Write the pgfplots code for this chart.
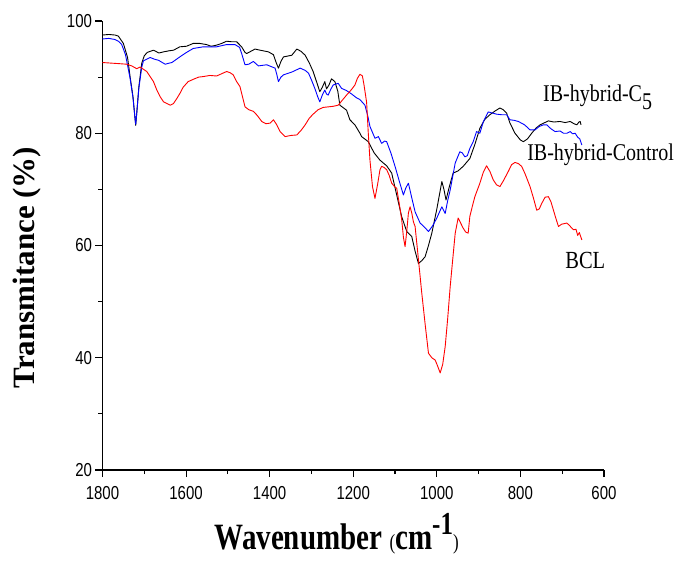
\documentclass[border=0pt]{standalone}
\usepackage{pgfplots}
\pgfplotsset{compat=1.18}
\usepackage{fontspec}
\setmainfont{Liberation Serif}
\newfontfamily\arialfont{Liberation Sans}

\begin{document}
\begin{tikzpicture}
\begin{axis}[
  scale only axis,
  width=501.5pt, height=449pt,
  x dir=reverse,
  xmin=600, xmax=1800, ymin=20, ymax=100,
  xtick={600,800,...,1800}, ytick={20,40,...,100},
  minor tick num=1,
  axis x line*=bottom, axis y line*=left,
  axis line style={line width=1.3pt},
  tick align=outside,
  major tick length=7pt, minor tick length=4pt,
  tick style={line width=1.1pt, black},
  /pgf/number format/assume math mode=true,
  /pgf/number format/1000 sep={},
  ticklabel style={font=\arialfont\fontsize{15}{15}\selectfont, yscale=1.25},
  xticklabel style={yshift=-4pt},
  clip=false,
  xlabel={\textbf{Wavenumber} {\fontsize{17}{17}\selectfont(}\textbf{cm\raisebox{0.42em}{\fontsize{25}{25}\selectfont -1}}{\fontsize{17}{17}\selectfont)}},
  xlabel style={at={(axis description cs:0.467,-0.178)}, anchor=base,
                font=\fontsize{29}{29}\selectfont, yscale=1.28},
  ylabel={\textbf{Transmitance (\%)}},
  ylabel style={at={(axis description cs:-0.1346,0.451)}, anchor=base,
                font=\fontsize{31}{31}\selectfont},
  every axis plot/.append style={line width=0.9pt, line join=round},
]

% IB-hybrid-C5
\addplot[black] coordinates {
(1800,97.5) (1785,97.6) (1770,97.5) (1762,97.3) (1750,96.0) (1740,93.5)
(1734,90.1) (1727,86.5) (1722,82.5) (1720.5,81.4) (1717,84.5) (1713,88.3)
(1706,92.5) (1700,93.8) (1693,94.4) (1678,94.8) (1665,94.3) (1654,94.5)
(1640,94.7) (1630,94.8) (1615,95.4) (1599,95.5) (1583,96.0) (1567,96.0)
(1551,95.8) (1540,95.5) (1527,95.7) (1515,96.0) (1503,96.4) (1491,96.3)
(1479,96.3) (1467,95.4) (1459,94.4) (1455,94.2) (1435,95.0) (1423,94.8)
(1403,94.5) (1391,94.0) (1384,92.5) (1379,91.6) (1373,92.8) (1367,93.6)
(1347,93.9) (1335,95.0) (1325,94.6) (1315,93.9) (1305,92.5) (1296,91.0)
(1287,89.0) (1280,87.4) (1274,88.2) (1268,89.2) (1264,87.9) (1258,88.6)
(1252,89.7) (1244,89.2) (1237,87.5) (1232,85.0) (1216,84.1) (1208,82.4)
(1196,81.5) (1184,80.0) (1180,79.4) (1164,78.5) (1150,76.5) (1136,75.2)
(1120,74.2) (1108,72.9) (1096,69.0) (1084,65.1) (1072,62.5) (1060,61.6)
(1052,59.0) (1044,56.8) (1036,57.3) (1028,58.0) (1020,60.0) (1012,62.2)
(1000,66.5) (988,71.4) (983,70.0) (978,68.1) (970,70.5) (961,72.9)
(949,73.3) (937,74.1) (921,75.5) (909,78.0) (897,80.9) (885,82.5)
(873,83.3) (860,84.0) (849,84.5) (841,84.2) (833,83.6) (825,81.8)
(813,80.0) (800,78.8) (793,78.5) (783,79.0) (773,80.0) (763,80.9)
(753,81.5) (733,82.2) (720,82.0) (705,82.1) (693,81.9) (681,82.1)
(672,81.7) (665,81.5) (660,82.0) (657,82.1) (655,81.5)
};

% IB-hybrid-Control
\addplot[blue] coordinates {
(1800,96.8) (1785,96.9) (1770,96.7) (1762,96.4) (1754,95.8) (1745,94.0)
(1734,89.8) (1727,86.3) (1722,82.5) (1720.5,81.6) (1717,84.5) (1713,88.0)
(1706,91.8) (1702,92.9) (1686,93.5) (1676,93.2) (1666,93.0) (1650,92.3)
(1640,92.5) (1634,92.6) (1615,93.6) (1599,94.4) (1583,95.1) (1559,95.4)
(1545,95.4) (1527,95.4) (1515,95.6) (1503,95.8) (1483,95.8) (1472,95.3)
(1467,94.2) (1459,92.2) (1450,92.3) (1439,92.8) (1427,92.0) (1407,92.2)
(1387,91.6) (1383,90.5) (1379,89.2) (1373,90.0) (1367,90.4) (1347,90.9)
(1327,91.6) (1315,91.2) (1307,90.7) (1300,89.5) (1292,88.0) (1285,86.5)
(1280,85.6) (1274,86.8) (1268,87.7) (1264,87.0) (1260,86.8) (1254,87.8)
(1248,88.6) (1236,88.9) (1228,88.0) (1216,87.6) (1204,87.0) (1192,86.3)
(1184,86.0) (1172,85.0) (1165,83.0) (1160,81.2) (1148,79.1) (1140,79.4)
(1132,78.2) (1125,78.6) (1120,78.5) (1110,76.5) (1100,74.1) (1090,71.5)
(1080,69.0) (1074,70.3) (1068,71.1) (1060,68.5) (1052,66.0) (1040,64.0)
(1030,63.3) (1020,62.5) (1010,63.5) (1000,64.9) (988,66.9) (980,65.7)
(974,68.0) (968,69.9) (956,74.7) (945,76.7) (939,76.5) (933,75.8)
(927,76.0) (921,77.3) (913,78.5) (905,80.3) (897,80.0) (889,82.0)
(877,83.8) (867,83.6) (857,83.4) (845,83.3) (833,83.3) (825,82.4)
(815,82.3) (805,82.1) (790,81.5) (777,80.6) (765,80.6) (755,81.2)
(745,81.5) (737,81.5) (727,80.8) (717,80.3) (705,80.4) (697,80.0)
(689,80.0) (681,80.3) (675,79.9) (669,80.0) (663,79.3) (658,79.0) (653,77.9)
};

% BCL
\addplot[red] coordinates {
(1800,92.6) (1780,92.5) (1760,92.4) (1742,92.3) (1730,92.0) (1718,91.5)
(1710,91.8) (1702,91.4) (1694,91.0) (1686,90.1) (1678,89.2) (1670,87.7)
(1662,86.5) (1654,85.6) (1646,85.3) (1638,85.0) (1630,85.3) (1622,86.2)
(1614,87.2) (1607,88.2) (1595,89.2) (1583,89.6) (1570,90.0) (1559,90.1)
(1543,90.3) (1527,90.2) (1515,90.6) (1503,91.0) (1495,90.8) (1487,90.4)
(1479,89.2) (1471,88.3) (1465,86.5) (1459,84.7) (1450,84.2) (1439,83.9)
(1430,83.2) (1419,82.1) (1409,81.7) (1399,81.8) (1391,82.4) (1383,81.5)
(1375,80.3) (1363,79.4) (1350,79.6) (1335,79.7) (1325,80.5) (1315,81.5)
(1305,82.7) (1296,83.4) (1284,84.2) (1272,84.6) (1260,84.7) (1248,84.8)
(1236,85.0) (1226,85.9) (1216,86.8) (1204,87.8) (1196,88.6) (1190,89.8)
(1184,90.5) (1178,90.2) (1174,88.5) (1168,85.5) (1164,80.0) (1160,75.2)
(1154,70.5) (1148,68.4) (1142,70.8) (1136,73.5) (1132,74.1) (1126,73.9)
(1120,73.5) (1114,72.5) (1108,71.1) (1100,70.4) (1096,70.2) (1090,67.5)
(1084,64.6) (1080,61.5) (1076,59.8) (1072,62.5) (1068,65.8) (1064,66.9)
(1060,65.8) (1056,64.2) (1052,63.4) (1044,57.5) (1036,51.5) (1028,46.0)
(1020,40.8) (1012,40.0) (1004,39.6) (998,38.5) (992,37.3) (986,38.8)
(980,42.0) (974,47.0) (968,52.7) (962,57.5) (956,62.2) (949,64.9)
(943,64.0) (937,63.1) (931,62.4) (925,62.2) (921,65.2) (915,67.0)
(909,68.7) (897,71.1) (889,73.0) (881,74.2) (873,73.2) (865,71.7)
(857,70.8) (849,70.5) (841,71.5) (829,73.2) (821,74.4) (813,74.8)
(805,74.6) (797,74.1) (789,72.8) (777,70.5) (769,68.5) (761,66.3)
(755,66.5) (749,67.5) (741,68.6) (733,68.7) (727,67.8) (721,66.3)
(715,64.8) (709,63.4) (701,63.8) (695,63.9) (689,64.0) (683,63.6)
(677,63.1) (673,62.8) (667,62.9) (663,61.8) (659,62.3) (653,61.0)
};

\node[anchor=base west, font=\fontsize{20}{20}\selectfont, yscale=1.2, inner sep=0pt]
  at (axis cs:746,85.6) {IB-hybrid-C\raisebox{-0.3em}{5}};
\node[anchor=base west, font=\fontsize{20}{20}\selectfont, yscale=1.2, inner sep=0pt]
  at (axis cs:784,75.2) {IB-hybrid-Control};
\node[anchor=base west, font=\fontsize{20.5}{20}\selectfont, yscale=1.2, inner sep=0pt]
  at (axis cs:693,55.96) {BCL};

\coordinate (sw) at (rel axis cs:0,0);
\end{axis}
\pgfresetboundingbox
\path[use as bounding box] (sw) ++(-102.5pt,-92pt) rectangle ++(684pt,562pt);
\end{tikzpicture}
\end{document}
